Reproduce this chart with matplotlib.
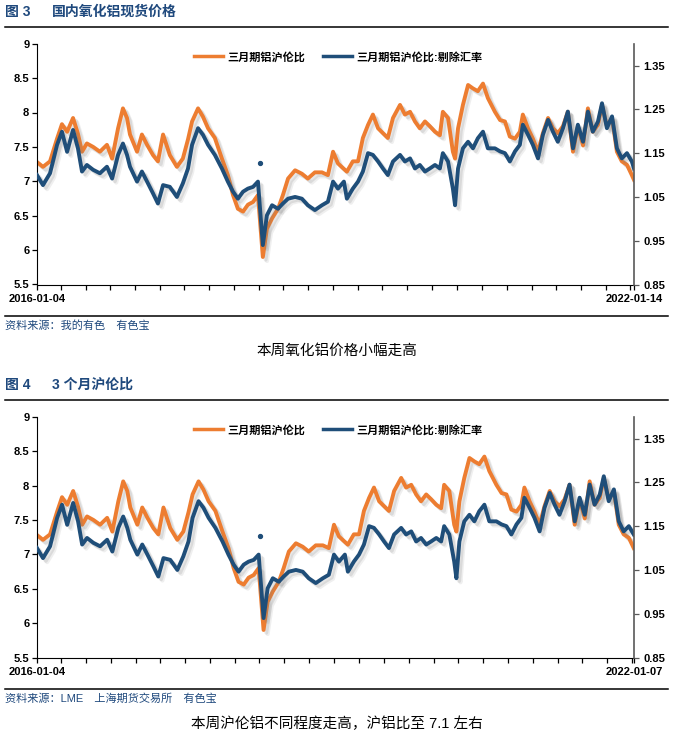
import matplotlib
matplotlib.use('Agg')
import matplotlib.pyplot as plt
import matplotlib.dates as mdates
import matplotlib.patheffects as pe
from matplotlib.lines import Line2D
import pandas as pd

plt.rcParams['font.family'] = ['Liberation Sans', 'Noto Sans CJK SC', 'DejaVu Sans']

# data
dates = ['2016-01-04', '2016-01-26', '2016-02-21', '2016-03-18', '2016-04-05', '2016-04-24',
         '2016-05-16', '2016-06-03', '2016-06-18', '2016-07-06', '2016-07-29', '2016-08-23',
         '2016-09-18', '2016-10-07', '2016-10-29', '2016-11-16', '2016-12-01', '2016-12-12',
         '2017-01-07', '2017-01-25', '2017-02-13', '2017-03-07', '2017-03-25', '2017-04-13',
         '2017-05-08', '2017-06-03', '2017-06-25', '2017-07-14', '2017-07-29', '2017-08-20',
         '2017-09-07', '2017-09-26', '2017-10-21', '2017-11-16', '2017-12-08', '2017-12-27',
         '2018-01-14', '2018-02-02', '2018-02-20', '2018-03-11', '2018-03-29', '2018-04-16',
         '2018-05-01', '2018-05-20', '2018-06-11', '2018-06-29', '2018-07-18', '2018-08-13',
         '2018-09-07', '2018-09-29', '2018-10-25', '2018-11-20', '2018-12-12', '2018-12-31',
         '2019-01-18', '2019-02-09', '2019-02-20', '2019-03-14', '2019-04-02', '2019-04-20',
         '2019-05-09', '2019-05-27', '2019-06-15', '2019-07-03', '2019-07-21', '2019-08-09',
         '2019-09-04', '2019-09-22', '2019-10-11', '2019-10-29', '2019-11-16', '2019-12-05',
         '2019-12-23', '2020-01-11', '2020-01-29', '2020-02-09', '2020-02-28', '2020-03-17',
         '2020-03-25', '2020-04-05', '2020-04-23', '2020-05-12', '2020-05-30', '2020-06-17',
         '2020-07-06', '2020-07-24', '2020-08-19', '2020-09-07', '2020-09-25', '2020-10-13',
         '2020-11-01', '2020-11-19', '2020-11-30', '2020-12-19', '2021-01-06', '2021-01-25',
         '2021-02-12', '2021-03-03', '2021-03-21', '2021-04-08', '2021-04-27', '2021-05-15',
         '2021-06-03', '2021-06-21', '2021-07-10', '2021-07-28', '2021-08-15', '2021-09-03',
         '2021-09-18', '2021-10-06', '2021-10-25', '2021-11-12', '2021-11-30', '2021-12-19',
         '2022-01-06', '2022-01-14']

# 三月期铝沪伦比 (left axis)
ratio = [7.28, 7.21, 7.29, 7.62, 7.83, 7.72, 7.92, 7.69, 7.43, 7.55, 7.50, 7.43,
         7.53, 7.33, 7.77, 8.06, 7.92, 7.68, 7.43, 7.68, 7.53, 7.38, 7.29, 7.68,
         7.38, 7.21, 7.33, 7.61, 7.87, 8.06, 7.94, 7.77, 7.63, 7.33, 7.09, 6.80,
         6.60, 6.56, 6.66, 6.70, 6.80, 5.90, 6.31, 6.46, 6.60, 6.80, 7.04, 7.16,
         7.11, 7.04, 7.13, 7.13, 7.09, 7.43, 7.26, 7.18, 7.14, 7.29, 7.29, 7.63,
         7.82, 7.97, 7.77, 7.70, 7.63, 7.92, 8.11, 7.97, 8.01, 7.87, 7.77, 7.87,
         7.80, 7.72, 7.67, 8.01, 7.92, 7.43, 7.33, 7.77, 8.11, 8.40, 8.35, 8.31,
         8.42, 8.21, 8.01, 7.89, 7.87, 7.65, 7.62, 7.72, 7.97, 7.77, 7.62, 7.43,
         7.70, 7.92, 7.77, 7.70, 7.80, 8.01, 7.43, 7.80, 7.52, 8.06, 7.72, 7.82,
         8.11, 7.80, 7.92, 7.43, 7.29, 7.24, 7.09, 7.02]

# 三月期铝沪伦比:剔除汇率 (right axis)
ratio_fx = [1.100, 1.077, 1.104, 1.169, 1.199, 1.153, 1.203, 1.161, 1.108, 1.123, 1.112, 1.104,
            1.119, 1.092, 1.146, 1.172, 1.146, 1.119, 1.085, 1.108, 1.085, 1.058, 1.035, 1.077,
            1.073, 1.050, 1.081, 1.115, 1.169, 1.207, 1.192, 1.169, 1.146, 1.115, 1.085, 1.062,
            1.046, 1.062, 1.069, 1.073, 1.085, 0.940, 1.008, 1.031, 1.023, 1.035, 1.046, 1.050,
            1.046, 1.031, 1.020, 1.031, 1.039, 1.085, 1.069, 1.085, 1.046, 1.069, 1.085, 1.108,
            1.150, 1.146, 1.131, 1.115, 1.100, 1.131, 1.146, 1.131, 1.138, 1.115, 1.123, 1.108,
            1.115, 1.123, 1.115, 1.150, 1.131, 1.069, 1.031, 1.115, 1.161, 1.176, 1.161, 1.184,
            1.199, 1.161, 1.161, 1.154, 1.150, 1.131, 1.154, 1.169, 1.215, 1.192, 1.169, 1.138,
            1.192, 1.226, 1.199, 1.176, 1.207, 1.245, 1.161, 1.215, 1.176, 1.245, 1.199, 1.222,
            1.264, 1.207, 1.234, 1.161, 1.138, 1.150, 1.131, 1.115]

# isolated point in the blue series
dot_date = '2018-04-04'
dot_value = 1.127

left_ticks = [5.5, 6, 6.5, 7, 7.5, 8, 8.5, 9]
right_ticks = [0.85, 0.95, 1.05, 1.15, 1.25, 1.35]

labels = ['三月期铝沪伦比', '三月期铝沪伦比:剔除汇率']
start_date = '2016-01-04'
panels = [
    dict(num='图 3', title='国内氧化铝现货价格', end='2022-01-14',
         source='资料来源：我的有色　有色宝', caption='本周氧化铝价格小幅走高'),
    dict(num='图 4', title='3 个月沪伦比', end='2022-01-07',
         source='资料来源：LME　上海期货交易所　有色宝', caption='本周沪伦铝不同程度走高，沪铝比至 7.1 左右'),
]

ORANGE = '#ED7D31'
BLUE = '#1F4E79'
NAVY = '#1F497D'

df = pd.DataFrame({'date': pd.to_datetime(dates), 'ratio': ratio, 'ratio_fx': ratio_fx})

W, H = 673, 741
fig = plt.figure(figsize=(W / 100, H / 100), dpi=100)


def fx(px):
    return px / W


def fy(py):
    return 1 - py / H


def shadow():
    # soft grey drop shadow like the Excel original
    return [pe.SimpleLineShadow(offset=(3, -3), shadow_color='#7f7f7f', alpha=0.12),
            pe.SimpleLineShadow(offset=(2, -2), shadow_color='#7f7f7f', alpha=0.18),
            pe.Normal()]


def hline(py):
    fig.add_artist(Line2D([fx(5), fx(668)], [fy(py), fy(py)], color='black', lw=1.1))


for i, p in enumerate(panels):
    off = i * 373
    fig.text(fx(5), fy(12 + off), p['num'], color=NAVY, fontsize=10, fontweight='bold', va='center')
    fig.text(fx(52), fy(12 + off), p['title'], color=NAVY, fontsize=10, fontweight='bold', va='center')
    hline(27 + off)

    top, bottom = 43.7 + off, 284.5 + off
    ax = fig.add_axes([fx(37), fy(bottom), fx(597), (bottom - top) / H])
    ax2 = ax.twinx()

    d = df[df['date'] <= pd.Timestamp(p['end'])]
    ax.plot(d['date'], d['ratio'], color=ORANGE, lw=2.8, path_effects=shadow())
    ax2.plot(d['date'], d['ratio_fx'], color=BLUE, lw=2.8, path_effects=shadow())
    ax2.plot([pd.Timestamp(dot_date)], [dot_value], 'o', color=BLUE, ms=2.8)

    ax.set_xlim(pd.Timestamp(start_date), pd.Timestamp(p['end']))
    ax.set_ylim(5.5, 9)
    ax2.set_ylim(0.85, 1.40)

    ax.set_yticks(left_ticks)
    ax.set_yticklabels(['{:g}'.format(t) for t in left_ticks], fontsize=8, fontweight='bold')
    ax2.set_yticks(right_ticks)
    ax2.set_yticklabels(['{:.2f}'.format(t) for t in right_ticks], fontsize=8, fontweight='bold')

    ax.set_xticks([pd.Timestamp(start_date), pd.Timestamp(p['end'])])
    ax.set_xticklabels([start_date, p['end']], fontsize=8, fontweight='bold')
    ax.xaxis.set_minor_locator(mdates.MonthLocator(bymonth=[1, 4, 7, 10]))

    for s in ['top', 'right']:
        ax.spines[s].set_visible(False)
    for s in ['top', 'left', 'bottom']:
        ax2.spines[s].set_visible(False)
    ax.spines['left'].set_color('black')
    ax.spines['bottom'].set_color('black')
    ax2.spines['right'].set_color('#595959')
    ax2.spines['right'].set_linewidth(1.2)

    ax.tick_params(axis='both', which='both', direction='out', length=3.5, width=0.9, pad=2)
    ax.tick_params(axis='x', which='major', pad=3)
    ax2.tick_params(axis='y', direction='out', length=3.5, width=0.9, pad=3, color='#595959')

    handles = [Line2D([], [], color=ORANGE, lw=2.5), Line2D([], [], color=BLUE, lw=2.5)]
    ax2.legend(handles, labels, loc='upper center', bbox_to_anchor=(0.505, 1.01), ncol=2,
               frameon=False, prop=dict(weight='bold', size=8), handlelength=2.6,
               handletextpad=0.4, columnspacing=1.6)

    hline(316 + off)
    fig.text(fx(5), fy(326 + off), p['source'], color=NAVY, fontsize=8, va='center')
    fig.text(fx(337), fy(351 + off), p['caption'], color='black', fontsize=10.5, va='center', ha='center')

fig.savefig('out.png', dpi=100)
